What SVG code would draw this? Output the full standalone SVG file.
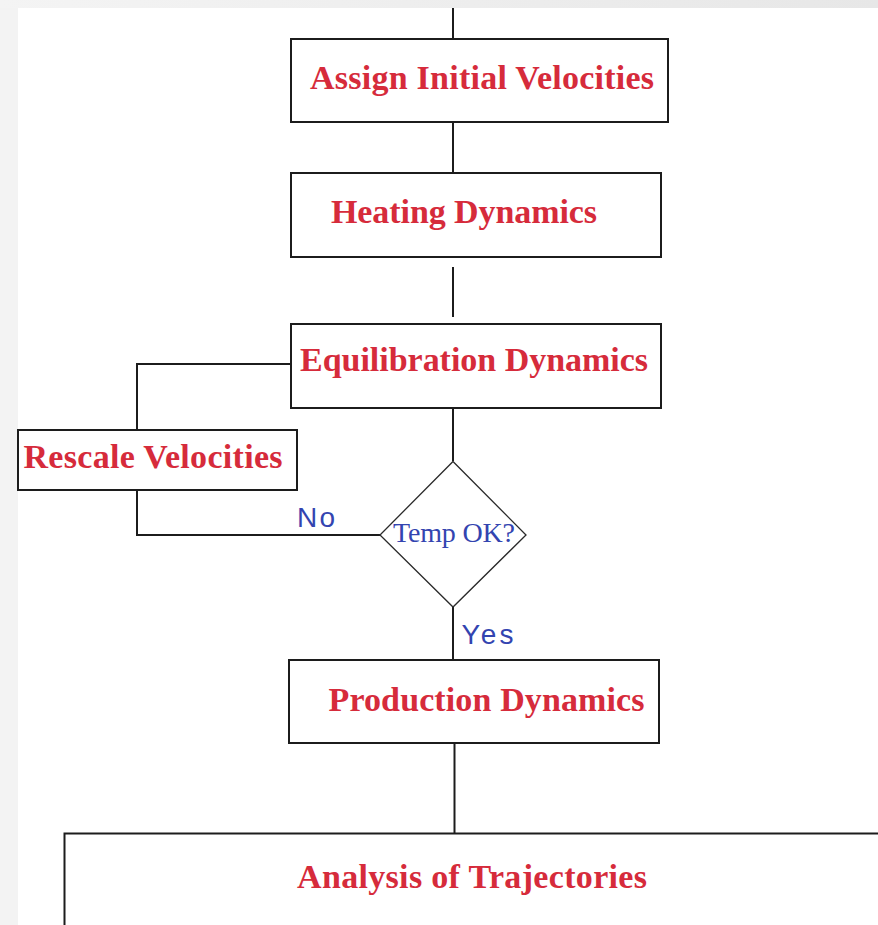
<svg xmlns="http://www.w3.org/2000/svg" width="878" height="925" viewBox="0 0 878 925">
<defs>
<linearGradient id="topg" x1="0" y1="0" x2="1" y2="0">
<stop offset="0" stop-color="#f4f4f4"/>
<stop offset="1" stop-color="#e7e7e7"/>
</linearGradient>
<style>
.box{fill:#ffffff;stroke:#1c1c1c;stroke-width:2}
.lbl{font-family:"Liberation Serif","Times New Roman",serif;font-weight:bold;font-size:34px;fill:#d62b3b}
.conn{fill:none;stroke:#1c1c1c;stroke-width:2}
.dia{fill:#ffffff;stroke:#2a2a2a;stroke-width:1.3}
.q{font-family:"Liberation Serif","Times New Roman",serif;font-size:28px;fill:#3344b0}
.yn{font-family:"Liberation Sans",Arial,sans-serif;font-size:28px;fill:#3344b0}
</style>
</defs>
<rect x="0" y="0" width="878" height="925" fill="#f3f3f3"/>
<rect x="0" y="0" width="878" height="8" fill="url(#topg)"/>
<rect x="18" y="8" width="860" height="917" fill="#ffffff"/>

<g id="connectors">
<line class="conn" x1="453" y1="8" x2="453" y2="39"/>
<line class="conn" x1="453" y1="122" x2="453" y2="173"/>
<line class="conn" x1="453" y1="267" x2="453" y2="317"/>
<line class="conn" x1="453" y1="408" x2="453" y2="461"/>
<polyline class="conn" points="291,364 137,364 137,430"/>
<polyline class="conn" points="137,490 137,535 380,535"/>
<line class="conn" x1="453" y1="607" x2="453" y2="660"/>
<line class="conn" x1="454.5" y1="743" x2="454.5" y2="833"/>
<text class="yn" x="297" y="527" textLength="38">No</text>
<text class="yn" x="461.5" y="644" textLength="52">Yes</text>
</g>

<g id="assign">
<rect class="box" x="291" y="39" width="377" height="83"/>
<text class="lbl" x="310" y="89" textLength="344">Assign Initial Velocities</text>
</g>

<g id="heating">
<rect class="box" x="291" y="173" width="370" height="84"/>
<text class="lbl" x="331" y="223" textLength="266">Heating Dynamics</text>
</g>

<g id="equilibration">
<rect class="box" x="291" y="324" width="370" height="84"/>
<text class="lbl" x="300" y="371" textLength="348">Equilibration Dynamics</text>
</g>

<g id="rescale">
<rect class="box" x="18" y="430" width="279" height="60"/>
<text class="lbl" x="23.5" y="468" textLength="259">Rescale Velocities</text>
</g>

<g id="tempok">
<polygon class="dia" points="453,461.5 526,535 453,607 380,535"/>
<text class="q" x="393" y="541.5" textLength="122">Temp OK?</text>
</g>

<g id="production">
<rect class="box" x="289" y="660" width="370" height="83"/>
<text class="lbl" x="328.5" y="711" textLength="316">Production Dynamics</text>
</g>

<g id="analysis">
<path class="box" d="M64.5 930 V833.5 H880"/>
<text class="lbl" x="297" y="888" textLength="350">Analysis of Trajectories</text>
</g>
</svg>
